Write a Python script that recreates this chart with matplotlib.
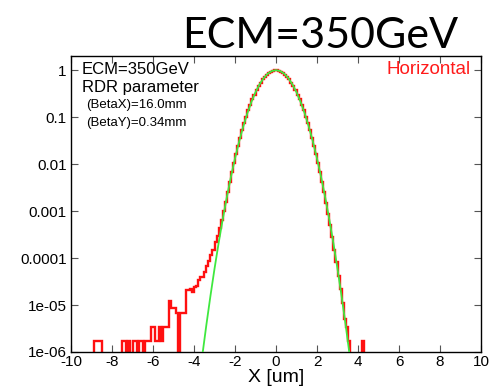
import matplotlib
matplotlib.use("Agg")
import matplotlib.pyplot as plt
import numpy as np

plt.rcParams['axes.unicode_minus'] = False
plt.rcParams['font.family'] = ['Liberation Sans', 'DejaVu Sans']

# histogram binning
left_edge = -9.0
bin_width = 0.1

# far left tail, in single-event counts (bins -9.0 .. -3.8)
tail_counts = [0, 1, 1, 1, 1, 0, 0, 0, 0, 0, 0, 0, 0, 0, 0,
               1, 1, 0, 1, 0, 1, 1, 0, 1, 1,
               0, 1, 1, 1, 2, 2, 1, 1, 2, 1,
               2, 2, 2, 7, 5, 5, 4, 0, 4, 4,
               4, 12, 12, 13, 11, 14, 15]
count_unit = 1.7e-6

# shoulder (bins -3.8 .. -2.4)
shoulder = [3.4e-5, 4.0e-5, 4.0e-5, 5.1e-5, 6.8e-5, 8.7e-5, 1.15e-4,
            1.48e-4, 2.24e-4, 2.95e-4, 4.27e-4, 6.46e-4, 1.02e-3, 1.58e-3]

# core, negative side (bins -2.4 .. 0.0)
core_neg = [0.00254, 0.00418, 0.00672, 0.0106, 0.0163, 0.0246, 0.0364, 0.0525,
            0.0743, 0.103, 0.139, 0.184, 0.239, 0.303, 0.377, 0.457,
            0.544, 0.633, 0.721, 0.803, 0.876, 0.935, 0.976, 0.997]

# core, positive side (bins 0.0 .. 3.2)
core_pos = [0.997, 0.976, 0.935, 0.876, 0.803, 0.721, 0.633, 0.544,
            0.457, 0.377, 0.303, 0.239, 0.184, 0.139, 0.103, 0.0743,
            0.0525, 0.0364, 0.0246, 0.0163, 0.0106, 0.00672, 0.00418, 0.00254,
            0.00151, 0.000879, 0.000500, 0.000279, 0.000152, 8.13e-5, 4.25e-5, 2.17e-5]

# right tail (bins 3.2 .. 4.4)
right_tail = [1.09e-5, 5.1e-6, 3.4e-6, 1.7e-6, 0, 0, 0, 0, 0, 0, 1.7e-6, 0]

# gaussian fit curve, sampled every 0.2 um
fit_x = [-3.8, -3.6, -3.4, -3.2, -3.0, -2.8, -2.6, -2.4, -2.2, -2.0,
         -1.8, -1.6, -1.4, -1.2, -1.0, -0.8, -0.6, -0.4, -0.2, 0.0,
         0.2, 0.4, 0.6, 0.8, 1.0, 1.2, 1.4, 1.6, 1.8, 2.0,
         2.2, 2.4, 2.6, 2.8, 3.0, 3.2, 3.4, 3.6, 3.8]
fit_half = [1.0, 0.958, 0.841, 0.678, 0.500, 0.339, 0.210, 0.120, 0.0627, 0.0300,
            0.0132, 0.00531, 0.00196, 6.65e-4, 2.07e-4, 5.89e-5, 1.54e-5, 3.69e-6,
            8.1e-7, 1.63e-7]
fit_y = fit_half[:0:-1] + fit_half

y_ticks = [1, 0.1, 0.01, 0.001, 0.0001, 1e-5, 1e-6]
y_labels = ["1", "0.1", "0.01", "0.001", "0.0001", "1e-05", "1e-06"]
x_ticks = [-10, -8, -6, -4, -2, 0, 2, 4, 6, 8, 10]

hist_vals = np.array([c * count_unit for c in tail_counts] + shoulder
                     + core_neg + core_pos + right_tail)
edges = left_edge + bin_width * np.arange(len(hist_vals) + 1)

fig = plt.figure(figsize=(4.92, 3.90), dpi=100)
ax = fig.add_axes([71 / 492, 38 / 390, 410 / 492, 296 / 390])

ax.stairs(hist_vals, edges, baseline=None, color='#ff1010', lw=1.7, zorder=2)
ax.plot(fit_x, fit_y, color='#3fe83f', lw=1.3, zorder=3)

ax.set_yscale('log', nonpositive='clip')
ax.set_xlim(-10, 10)
ax.set_ylim(1e-6, 2.0)
ax.set_yticks(y_ticks)
ax.set_yticklabels(y_labels)
ax.set_xticks(x_ticks)
ax.set_xticklabels([str(t) for t in x_ticks])
ax.minorticks_off()
ax.tick_params(direction='in', length=5, width=0.8, color='#555555',
               top=True, right=True, labelsize=11, pad=3)
ax.tick_params(axis='x', pad=2)
for s in ax.spines.values():
    s.set_linewidth(1.0)

ax.set_xlabel("X [um]", fontsize=14, labelpad=0)

ax.text(0.027, 0.955, "ECM=350GeV", transform=ax.transAxes, fontsize=12, va='center')
ax.text(0.027, 0.895, "RDR parameter", transform=ax.transAxes, fontsize=12, va='center')
ax.text(0.037, 0.834, "(BetaX)=16.0mm", transform=ax.transAxes, fontsize=9.5, va='center')
ax.text(0.037, 0.773, "(BetaY)=0.34mm", transform=ax.transAxes, fontsize=9.5, va='center')
ax.text(0.975, 0.953, "Horizontal", transform=ax.transAxes, fontsize=13.5,
        color='#ff1a1a', ha='right', va='center')

fig.text(458 / 492, 1 - 48 / 390, "ECM=350GeV", fontsize=31, family=['Lato', 'DejaVu Sans'],
         ha='right', va='baseline')

fig.savefig("out.png", dpi=100)
